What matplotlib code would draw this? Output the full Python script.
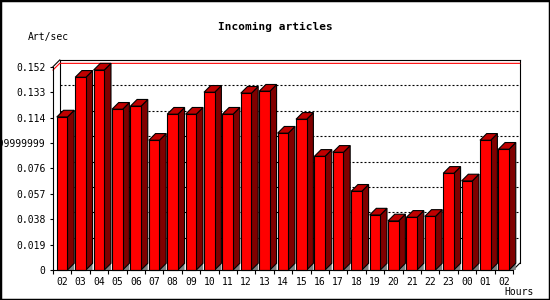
import numpy as np
import matplotlib
matplotlib.use("Agg")
import matplotlib.pyplot as plt
from matplotlib.patches import Polygon, Rectangle

plt.rcParams['font.family'] = ['DejaVu Sans Mono']
plt.rcParams['lines.scale_dashes'] = False

# data
hours = ["02", "03", "04", "05", "06", "07", "08", "09", "10", "11", "12", "13",
         "14", "15", "16", "17", "18", "19", "20", "21", "22", "23", "00", "01", "02"]
rate = [0.1144, 0.1441, 0.1495, 0.1202, 0.1225, 0.0970, 0.1165, 0.1165, 0.1329,
        0.1165, 0.1322, 0.1337, 0.1023, 0.1127, 0.0850, 0.0880, 0.0589, 0.0411,
        0.0367, 0.0394, 0.0401, 0.0723, 0.0666, 0.0970, 0.0903]
yticks = [0, 0.019, 0.038, 0.057, 0.076, 0.095, 0.114, 0.133, 0.152]
ytick_labels = ["0", "0.019", "0.038", "0.057", "0.076", "0.09499999999999999",
                "0.114", "0.133", "0.152"]

W, H = 550, 300
fig = plt.figure(figsize=(W / 100, H / 100), dpi=100)
fig.patch.set_facecolor("white")
# plot area in pixels: x 53..513, y 270..66.7
ax = fig.add_axes([53 / W, 30 / H, 460 / W, 203.3 / H])
ax.set_xlim(0, len(rate))
ax.set_ylim(0, yticks[-1])
ax.set_facecolor("none")

# 3d depth, converted to data units (about 6.7 px)
DX = 6.7 / (460 / len(rate))
DY = 6.7 / (203.3 / yticks[-1])
top = yticks[-1]
n = len(rate)

lk = dict(color="black", lw=0.8, clip_on=False, zorder=1)
ax.plot([DX, DX], [DY, top + DY], **lk)
ax.plot([0, DX], [top, top + DY], **lk)
ax.plot([DX, n + DX], [top + DY, top + DY], **lk)
ax.plot([n + DX, n + DX], [DY, top + DY], **lk)
ax.plot([n, n + DX], [0, DY], **lk)

for yv in yticks[1:-1]:
    ax.plot([DX, n + DX], [yv + DY, yv + DY], color="black", lw=0.8,
            dashes=(1.44, 1.44), clip_on=False, zorder=1)

vmax = max(rate)
ax.plot([0, DX, n + DX], [vmax, vmax + DY, vmax + DY], color="red", lw=0.8,
        clip_on=False, zorder=1.5)

bw = 0.58
for i, v in enumerate(rate):
    x0 = i + 0.207
    x1 = x0 + bw
    ax.add_patch(Polygon([(x1, 0), (x1 + DX, DY), (x1 + DX, 0)], closed=True,
                         facecolor="#808080", edgecolor="none", clip_on=False, zorder=2))
    ax.add_patch(Polygon([(x1, 0), (x1, v), (x1 + DX, v + DY), (x1 + DX, DY)], closed=True,
                         facecolor="#800000", edgecolor="black", lw=0.8, clip_on=False, zorder=2))
    ax.add_patch(Polygon([(x0, v), (x0 + DX, v + DY), (x1 + DX, v + DY), (x1, v)], closed=True,
                         facecolor="#C00000", edgecolor="black", lw=0.8, clip_on=False, zorder=2))
    ax.add_patch(Rectangle((x0, 0), bw, v, facecolor="#FF0000", edgecolor="black",
                           lw=0.8, clip_on=False, zorder=2))

for s in ["top", "right"]:
    ax.spines[s].set_visible(False)
for s in ["left", "bottom"]:
    ax.spines[s].set_linewidth(0.8)
    ax.spines[s].set_zorder(3)

ax.set_yticks(yticks)
ax.set_yticklabels(ytick_labels)
ax.tick_params(axis="y", length=2.5, width=0.8, pad=3, labelsize=7)
ax.set_xticks(np.arange(n + 1))
ax.set_xticklabels([])
ax.set_xticks(np.arange(n) + 0.5, minor=True)
ax.set_xticklabels(hours, minor=True)
ax.tick_params(axis="x", which="major", length=3, width=0.8)
ax.tick_params(axis="x", which="minor", length=0, pad=5, labelsize=7)

fig.text(275 / W, 1 - 27 / H, "Incoming articles", ha="center", va="center",
         fontsize=8, fontweight="bold")
fig.text(28 / W, 1 - 37 / H, "Art/sec", ha="left", va="center", fontsize=7)
fig.text(534 / W, 1 - 292 / H, "Hours", ha="right", va="center", fontsize=7)

fig.patches.append(Rectangle((0, 0), 1, 1, transform=fig.transFigure, fill=False,
                             edgecolor="black", lw=2.5, figure=fig))

fig.savefig("out.png", dpi=100)
